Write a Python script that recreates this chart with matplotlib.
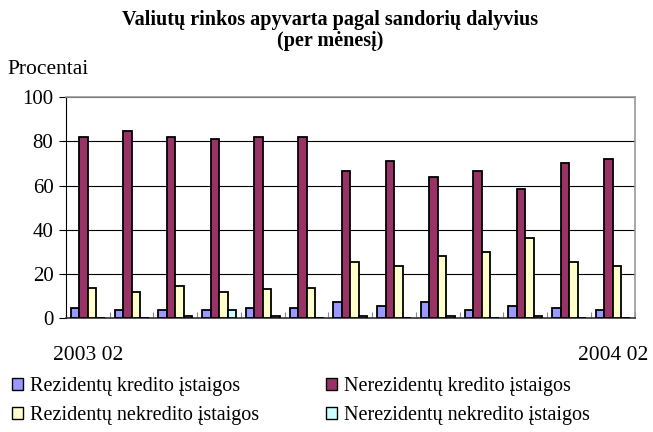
import matplotlib
matplotlib.use("Agg")
import matplotlib.pyplot as plt
import numpy as np
from matplotlib.patches import Patch

# data (percent of monthly FX turnover)
months = ["2003 02", "2003 03", "2003 04", "2003 05", "2003 06", "2003 07",
          "2003 08", "2003 09", "2003 10", "2003 11", "2003 12", "2004 01",
          "2004 02"]
rez_kred = [4.6, 3.7, 3.7, 3.7, 4.6, 4.6, 7.3, 5.5, 7.3, 3.7, 5.5, 4.6, 3.7]
nerez_kred = [81.8, 84.5, 81.8, 80.9, 81.8, 81.8, 66.5, 71.2, 64.0, 66.7, 58.6, 70.3, 72.1]
rez_nekred = [13.7, 11.8, 14.4, 11.8, 12.9, 13.5, 25.3, 23.5, 28.2, 29.8, 36.1, 25.3, 23.5]
nerez_nekred = [0.0, 0.0, 1.0, 3.7, 1.0, 0.0, 1.0, 0.0, 1.0, 0.0, 1.0, 0.0, 0.0]

series = [
    ("Rezidentų kredito įstaigos", rez_kred, "#9999FF"),
    ("Nerezidentų kredito įstaigos", nerez_kred, "#993366"),
    ("Rezidentų nekredito įstaigos", rez_nekred, "#FFFFCC"),
    ("Nerezidentų nekredito įstaigos", nerez_nekred, "#CCFFFF"),
]

plt.rcParams["font.family"] = ["Liberation Serif", "DejaVu Serif"]

fig = plt.figure(figsize=(6.53, 4.32), dpi=100)
ax = fig.add_axes([0.101, 0.264, 0.871, 0.511])

n = len(months)
x = np.arange(n)
bw = 0.195
for i, (name, vals, col) in enumerate(series):
    ax.bar(x + (i - 1.5) * bw, vals, width=bw, color=col,
           edgecolor="black", linewidth=1.3, zorder=3)

ax.set_xlim(-0.5, n - 0.5)
ax.set_ylim(0, 100)
ax.set_yticks(range(0, 101, 20))
ax.tick_params(axis="y", direction="out", length=5, width=0.8,
               labelsize=15, pad=4)
ax.yaxis.grid(True, color="black", linewidth=0.8, zorder=0)

# only first and last month labelled, far below the axis
ax.set_xticks([0, n - 1])
ax.set_xticklabels([months[0], months[-1]])
ax.tick_params(axis="x", length=0, labelsize=15.5, pad=20)
ax.set_xticks(np.arange(n + 1) - 0.5, minor=True)
ax.tick_params(axis="x", which="minor", direction="in", length=4,
               color="#888888", width=0.8)

for s in ("top", "right"):
    ax.spines[s].set_color("#999999")
    ax.spines[s].set_linewidth(1.2)
ax.spines["left"].set_color("black")
ax.spines["left"].set_linewidth(0.8)
ax.spines["bottom"].set_color("#333333")
ax.spines["bottom"].set_linewidth(1.2)

fig.text(0.505, 0.977, "Valiutų rinkos apyvarta pagal sandorių dalyvius\n(per mėnesį)",
         ha="center", va="top", fontsize=14.5, fontweight="bold",
         linespacing=1.05)
fig.text(0.012, 0.829, "Procentai", ha="left", va="baseline", fontsize=15.5)

handles = [Patch(facecolor=c, edgecolor="black", linewidth=1.0, label=nm)
           for nm, _, c in series]
order = [0, 2, 1, 3]
fig.legend([handles[k] for k in order], [series[k][0] for k in order],
           ncol=2, loc="lower left", bbox_to_anchor=(0.0, -0.012),
           frameon=False, fontsize=14.5, handlelength=0.55, handleheight=0.55,
           handletextpad=0.35, columnspacing=3.3, labelspacing=0.48,
           borderaxespad=0.2)

fig.savefig("out.png", dpi=100)
